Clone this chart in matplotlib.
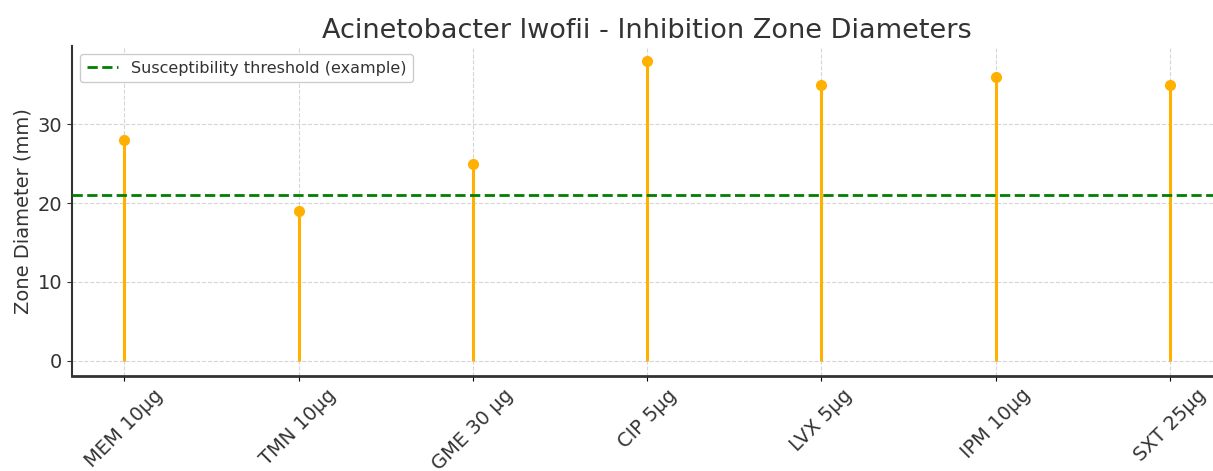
import matplotlib
matplotlib.use("Agg")
from matplotlib import pyplot as plt

antibiotics = ["MEM 10µg", "TMN 10µg", "GME 30 µg", "CIP 5µg", "LVX 5µg", "IPM 10µg", "SXT 25µg"]
diameters = [28, 19, 25, 38, 35, 36, 35]
threshold = 21

fig = plt.figure(figsize=(12.13, 4.71), dpi=100)
ax = fig.add_axes([0.0595, 0.202, 0.948, 0.70])

x = list(range(len(antibiotics)))
ax.vlines(x, 0, diameters, color="#FFB000", linewidth=2.2, zorder=3)
ax.plot(x, diameters, "o", color="#FFB000", markersize=7, zorder=4)
ax.axhline(threshold, color="green", linestyle="--", linewidth=2,
           label="Susceptibility threshold (example)", zorder=5)

ax.set_xticks(x)
ax.set_xticklabels(antibiotics, rotation=45, fontsize=14, color="#333333")
ax.set_yticks([0, 10, 20, 30])
ax.tick_params(axis="y", labelsize=14, colors="#333333")
ax.set_xlim(-0.3, 6.3)
ax.set_ylim(-1.9, 39.9)
ax.set_ylabel("Zone Diameter (mm)", fontsize=14, color="#333333")
ax.set_title("Acinetobacter lwofii - Inhibition Zone Diameters", fontsize=19.5, color="#333333")
ax.grid(True, linestyle="--", color="#cccccc", linewidth=0.8, alpha=0.8)
ax.set_axisbelow(True)
for s in ["top", "right"]:
    ax.spines[s].set_visible(False)
ax.spines["left"].set_linewidth(1.5)
ax.spines["bottom"].set_linewidth(2)
ax.spines["left"].set_color("#333333")
ax.spines["bottom"].set_color("#333333")
leg = ax.legend(loc="upper left", fontsize=11.5, framealpha=1, edgecolor="#cccccc")
for t in leg.get_texts():
    t.set_color("#333333")

fig.savefig("out.png", dpi=100)
